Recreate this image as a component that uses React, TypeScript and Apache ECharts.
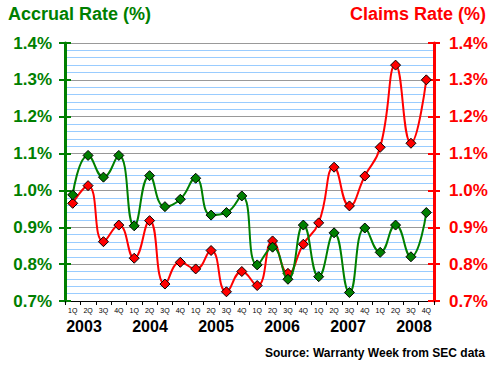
import React, { useEffect, useRef } from "react";
import * as echarts from "echarts";

const years = ["2003", "2004", "2005", "2006", "2007", "2008"];
const quarterLabels = ["1Q", "2Q", "3Q", "4Q"];
const accrualRate = [0.988, 1.095, 1.036, 1.095, 0.904, 1.04, 0.956, 0.976, 1.033, 0.933, 0.94, 0.985, 0.798, 0.846, 0.759, 0.906, 0.766, 0.885, 0.723, 0.898, 0.832, 0.906, 0.82, 0.94];
const claimsRate = [0.965, 1.013, 0.861, 0.906, 0.816, 0.918, 0.746, 0.805, 0.787, 0.837, 0.725, 0.78, 0.742, 0.863, 0.775, 0.854, 0.912, 1.063, 0.958, 1.039, 1.117, 1.34, 1.128, 1.3];
const axisMin = 0.7;
const axisMax = 1.4;
const axisStep = 0.1;
const minorStep = 0.02;

const FONT = '"Liberation Sans", Arial, sans-serif';
const GREEN = "#007f00";
const RED = "#ff0000";

export default function App() {
  const ref = useRef<HTMLDivElement>(null);
  useEffect(() => {
    if (!ref.current) return;
    const chart = echarts.init(ref.current, null, { renderer: "svg" });
    const nQ = accrualRate.length;
    // half-quarter units: quarter i is centred at 2*i+1, boundaries at even values
    const accrualData = accrualRate.map((v, i) => [2 * i + 1, v]);
    const claimsData = claimsRate.map((v, i) => [2 * i + 1, v]);
    const pct = (v: number) => v.toFixed(1) + "%";
    const qLabel = (v: number) => {
      const r = Math.round(v);
      if (r % 2 === 0) return "";
      return quarterLabels[((r - 1) / 2) % quarterLabels.length];
    };
    const yearGraphics = years.map((y, i) => ({
      type: "text",
      x: 84 + i * 66,
      y: 326,
      style: { text: y, fill: "#000", font: 'bold 16px "Liberation Sans", Arial, sans-serif', align: "center", verticalAlign: "middle" },
    }));
    const option: any = {
      animation: false,
      backgroundColor: "#ffffff",
      title: [
        { text: "Accrual Rate (%)", left: 8, top: 4, padding: 0, textStyle: { color: GREEN, fontFamily: FONT, fontSize: 18, fontWeight: "bold", lineHeight: 20 } },
        { text: "Claims Rate (%)", right: 14, top: 4, padding: 0, textStyle: { color: RED, fontFamily: FONT, fontSize: 18, fontWeight: "bold", lineHeight: 20 } },
        { text: "Source: Warranty Week from SEC data", right: 15, top: 346, padding: 0, textStyle: { color: "#000", fontFamily: FONT, fontSize: 12, fontWeight: "bold", lineHeight: 14 } },
      ],
      graphic: yearGraphics,
      grid: { left: 65, right: 66, top: 43, bottom: 64, show: false },
      xAxis: [
        {
          type: "value",
          position: "bottom",
          min: 0,
          max: nQ * 2,
          interval: 1,
          axisLine: { show: true, onZero: false, lineStyle: { color: "#000", width: 1 } },
          axisTick: { show: false },
          axisLabel: { margin: 6, fontSize: 7, fontFamily: FONT, color: "#000", formatter: qLabel, showMinLabel: true, showMaxLabel: true },
          splitLine: { show: false },
          splitArea: { show: false },
        },
        {
          type: "value",
          position: "bottom",
          min: 0,
          max: nQ,
          interval: 1,
          axisLine: { show: false, onZero: false },
          axisTick: { show: true, length: 4, lineStyle: { color: "#000", width: 1 } },
          axisLabel: { show: false },
          splitLine: { show: false },
          splitArea: { show: false },
        },
      ],
      yAxis: [
        {
          type: "value", position: "left", min: axisMin, max: axisMax, interval: minorStep,
          axisLine: { show: false },
          axisTick: { show: false },
          axisLabel: { show: false },
          splitLine: { show: true, lineStyle: { color: "#99ccff", width: 1 } },
        },
        {
          type: "value", position: "left", min: axisMin, max: axisMax, interval: axisStep,
          axisLine: { show: true, lineStyle: { color: GREEN, width: 3 } },
          axisTick: { show: true, length: 6, lineStyle: { color: GREEN, width: 2 } },
          axisLabel: { margin: 13, color: GREEN, fontFamily: FONT, fontSize: 17, fontWeight: "bold", formatter: pct },
          splitLine: { show: true, lineStyle: { color: "#999999", width: 1 } },
        },
        {
          type: "value", position: "right", min: axisMin, max: axisMax, interval: axisStep,
          axisLine: { show: true, lineStyle: { color: RED, width: 3 } },
          axisTick: { show: true, length: 6, lineStyle: { color: RED, width: 2 } },
          axisLabel: { margin: 15, color: RED, fontFamily: FONT, fontSize: 17, fontWeight: "bold", formatter: pct },
          splitLine: { show: false },
        },
        {
          type: "value", position: "left", min: axisMin, max: axisMax, interval: axisStep,
          axisLine: { show: false },
          axisTick: { show: true, inside: true, length: 6, lineStyle: { color: GREEN, width: 2 } },
          axisLabel: { show: false },
          splitLine: { show: false },
        },
        {
          type: "value", position: "right", min: axisMin, max: axisMax, interval: axisStep,
          axisLine: { show: false },
          axisTick: { show: true, inside: true, length: 6, lineStyle: { color: RED, width: 2 } },
          axisLabel: { show: false },
          splitLine: { show: false },
        },
      ],
      series: [
        {
          name: "Claims Rate",
          type: "line",
          xAxisIndex: 0,
          yAxisIndex: 2,
          data: claimsData,
          smooth: 0.5,
          symbol: "diamond",
          symbolSize: 10,
          lineStyle: { color: RED, width: 2 },
          itemStyle: { color: RED, borderColor: "#000", borderWidth: 1 },
          z: 3,
        },
        {
          name: "Accrual Rate",
          type: "line",
          xAxisIndex: 0,
          yAxisIndex: 1,
          data: accrualData,
          smooth: 0.5,
          symbol: "diamond",
          symbolSize: 10,
          lineStyle: { color: GREEN, width: 2 },
          itemStyle: { color: GREEN, borderColor: "#000", borderWidth: 1 },
          z: 4,
        },
      ],
    };
    chart.setOption(option);
    return () => chart.dispose();
  }, []);
  return <div ref={ref} style={{ position: "fixed", left: 0, top: 0, width: 500, height: 365, background: "#fff" }} />;
}
